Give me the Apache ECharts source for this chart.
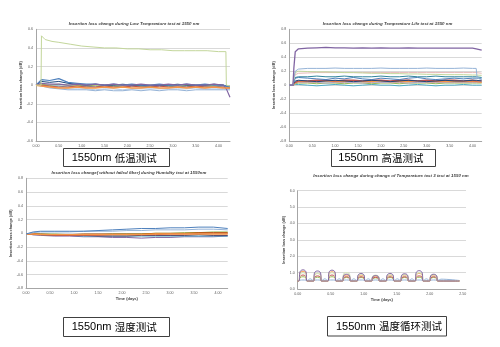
<!DOCTYPE html>
<html>
<head>
<meta charset="utf-8">
<script src="https://cdn.jsdelivr.net/npm/echarts@6/dist/echarts.min.js"></script>
<style>
  html, body { margin: 0; padding: 0; background: #ffffff; }
  #c { width: 500px; height: 347px; }
</style>
</head>
<body>
<div id="c"></div>
<script>
// ---------- Low temperature test at 1550 nm (insertion loss change, dB) ----------
const ltDays   = [0, 0.12, 0.3, 0.5, 0.7, 0.9, 1.1, 1.3, 1.5, 1.7, 1.9, 2.1, 2.3, 2.5, 2.7, 2.9, 3.1, 3.3, 3.5, 3.7, 3.9, 4.1, 4.17, 4.25];
const ltBlue   = [0.00, 0.06, 0.05, 0.07, 0.03, 0.02, 0.01, 0.01, 0.00, 0.01, 0.00, 0.01, 0.00, 0.00, 0.01, 0.00, 0.00, 0.01, 0.00, 0.01, 0.00, 0.00, -0.01, -0.02];
const ltNavy   = [0.00, 0.04, 0.03, 0.04, 0.02, 0.01, 0.00, 0.01, 0.00, 0.00, 0.01, 0.00, 0.00, -0.01, 0.00, 0.00, 0.01, 0.00, 0.00, 0.00, 0.01, 0.00, -0.01, -0.02];
const ltPurple = [0.00, 0.02, 0.01, 0.01, 0.00, 0.01, 0.00, 0.01, 0.00, 0.01, 0.00, 0.00, 0.01, 0.00, 0.00, 0.01, 0.00, 0.01, 0.00, 0.00, 0.01, 0.00, -0.04, -0.13];
const ltGreen  = [0.00, 0.01, 0.00, 0.01, 0.00, 0.00, -0.01, 0.00, 0.00, -0.01, 0.00, 0.00, -0.01, 0.00, 0.00, -0.01, 0.00, 0.00, 0.00, -0.01, 0.00, 0.00, -0.01, -0.01];
const ltTeal   = [0.00, 0.00, -0.01, -0.01, -0.02, -0.01, -0.01, -0.02, -0.01, -0.01, -0.02, -0.01, -0.01, -0.02, -0.01, -0.01, -0.02, -0.01, -0.02, -0.01, -0.01, -0.02, -0.02, -0.03];
const ltRed    = [0.00, 0.00, -0.01, -0.02, -0.02, -0.01, -0.02, -0.02, -0.01, -0.02, -0.02, -0.01, -0.02, -0.02, -0.01, -0.02, -0.02, -0.02, -0.01, -0.02, -0.02, -0.02, -0.03, -0.03];
const ltOrange = [0.00, -0.01, -0.02, -0.03, -0.03, -0.02, -0.03, -0.03, -0.02, -0.03, -0.02, -0.03, -0.03, -0.02, -0.03, -0.03, -0.02, -0.03, -0.02, -0.03, -0.02, -0.03, -0.03, -0.03];
const ltSky    = [0.00, -0.01, -0.03, -0.04, -0.05, -0.05, -0.05, -0.06, -0.05, -0.06, -0.06, -0.05, -0.06, -0.05, -0.06, -0.05, -0.05, -0.06, -0.05, -0.05, -0.05, -0.05, -0.05, -0.05];
const ltPale   = [0.00, 0.00, -0.02, -0.03, -0.04, -0.04, -0.04, -0.05, -0.04, -0.04, -0.05, -0.04, -0.04, -0.04, -0.04, -0.04, -0.04, -0.04, -0.03, -0.04, -0.04, -0.04, -0.04, -0.04];
// the one channel that jumps up when cooling starts
const ltLimeDays = [0, 0.11, 0.12, 0.2, 0.35, 0.5, 0.75, 1.0, 1.25, 1.5, 1.75, 2.0, 2.25, 2.5, 2.75, 3.0, 3.25, 3.5, 3.75, 4.0, 4.16, 4.17, 4.25];
const ltLime     = [0.00, 0.00, 0.53, 0.49, 0.47, 0.46, 0.44, 0.42, 0.41, 0.40, 0.40, 0.39, 0.39, 0.38, 0.38, 0.37, 0.37, 0.37, 0.37, 0.36, 0.36, 0.00, -0.01];

// ---------- High temperature life test at 1550 nm ----------
const htDays   = [0, 0.08, 0.1, 0.13, 0.2, 0.4, 0.6, 0.8, 1.0, 1.2, 1.4, 1.6, 1.8, 2.0, 2.2, 2.4, 2.6, 2.8, 3.0, 3.2, 3.4, 3.6, 3.8, 4.0, 4.08, 4.1, 4.2];
const htPurple = [0, 0.00, 0.25, 0.48, 0.52, 0.53, 0.535, 0.54, 0.535, 0.535, 0.53, 0.535, 0.53, 0.535, 0.53, 0.53, 0.535, 0.53, 0.53, 0.53, 0.53, 0.53, 0.53, 0.53, 0.52, 0.51, 0.50];
const htSky    = [0, 0.00, 0.10, 0.20, 0.23, 0.24, 0.24, 0.24, 0.245, 0.24, 0.24, 0.24, 0.24, 0.245, 0.24, 0.24, 0.24, 0.24, 0.245, 0.24, 0.24, 0.24, 0.245, 0.24, 0.24, 0.10, 0.08];
const htKhaki  = [0, 0.00, 0.10, 0.18, 0.20, 0.195, 0.19, 0.19, 0.185, 0.18, 0.18, 0.175, 0.17, 0.17, 0.165, 0.165, 0.16, 0.16, 0.155, 0.155, 0.15, 0.15, 0.15, 0.145, 0.145, 0.14, 0.14];
const htRose   = [0, 0.00, 0.08, 0.15, 0.17, 0.175, 0.18, 0.18, 0.18, 0.18, 0.18, 0.18, 0.18, 0.18, 0.18, 0.18, 0.18, 0.18, 0.18, 0.18, 0.18, 0.18, 0.18, 0.18, 0.18, 0.17, 0.17];
const htTeal   = [0, 0.00, 0.06, 0.11, 0.12, 0.12, 0.13, 0.12, 0.12, 0.13, 0.12, 0.12, 0.12, 0.13, 0.12, 0.12, 0.13, 0.12, 0.12, 0.13, 0.12, 0.12, 0.12, 0.12, 0.12, 0.11, 0.11];
const htBlue   = [0, 0.00, 0.05, 0.10, 0.11, 0.10, 0.09, 0.08, 0.10, 0.09, 0.11, 0.09, 0.08, 0.10, 0.09, 0.08, 0.10, 0.11, 0.09, 0.08, 0.09, 0.10, 0.09, 0.10, 0.10, 0.09, 0.09];
const htNavy   = [0, 0.00, 0.03, 0.06, 0.07, 0.06, 0.05, 0.06, 0.07, 0.06, 0.05, 0.06, 0.07, 0.06, 0.05, 0.06, 0.07, 0.06, 0.05, 0.06, 0.07, 0.06, 0.06, 0.07, 0.07, 0.06, 0.06];
const htRed    = [0, 0.00, 0.03, 0.05, 0.06, 0.06, 0.07, 0.07, 0.06, 0.07, 0.07, 0.06, 0.07, 0.07, 0.06, 0.07, 0.07, 0.06, 0.07, 0.06, 0.07, 0.07, 0.06, 0.07, 0.06, 0.06, 0.06];
const htOrange = [0, 0.00, 0.02, 0.04, 0.05, 0.05, 0.05, 0.06, 0.05, 0.05, 0.06, 0.05, 0.05, 0.06, 0.05, 0.05, 0.05, 0.06, 0.05, 0.05, 0.05, 0.05, 0.05, 0.05, 0.05, 0.05, 0.04];
const htLilac  = [0, 0.00, 0.01, 0.03, 0.04, 0.04, 0.04, 0.03, 0.04, 0.04, 0.04, 0.03, 0.04, 0.04, 0.04, 0.04, 0.03, 0.04, 0.04, 0.04, 0.04, 0.04, 0.04, 0.04, 0.04, 0.04, 0.04];
const htGreen  = [0, 0.00, 0.01, 0.02, 0.03, 0.03, 0.02, 0.03, 0.03, 0.02, 0.03, 0.03, 0.02, 0.03, 0.03, 0.02, 0.03, 0.03, 0.03, 0.02, 0.03, 0.03, 0.03, 0.03, 0.03, 0.03, 0.03];
const htCyan   = [0, 0.00, 0.00, 0.01, 0.01, 0.00, -0.01, 0.00, 0.01, 0.00, -0.01, 0.00, 0.01, 0.00, 0.00, -0.01, 0.00, 0.01, 0.00, -0.01, 0.00, 0.00, 0.01, 0.00, 0.00, 0.00, 0.00];

// ---------- Humidity test at 1550 nm (without failed fiber) ----------
const huDays   = [0, 0.15, 0.3, 0.6, 0.9, 1.2, 1.5, 1.8, 2.1, 2.4, 2.7, 3.0, 3.3, 3.6, 3.9, 4.2];
const huBlue   = [-0.01, 0.02, 0.03, 0.03, 0.03, 0.03, 0.04, 0.05, 0.06, 0.07, 0.07, 0.08, 0.08, 0.09, 0.09, 0.07];
const huSky    = [-0.01, 0.01, 0.02, 0.02, 0.02, 0.03, 0.03, 0.03, 0.04, 0.04, 0.05, 0.05, 0.05, 0.06, 0.06, 0.05];
const huGreen  = [-0.01, 0.00, -0.01, -0.01, -0.02, -0.02, -0.02, -0.01, -0.01, -0.01, 0.00, 0.00, 0.01, 0.01, 0.02, 0.02];
const huBrown  = [-0.01, -0.01, -0.01, -0.02, -0.02, -0.01, -0.01, -0.01, -0.01, -0.01, 0.00, 0.00, 0.00, 0.01, 0.01, 0.01];
const huRed    = [-0.01, -0.01, -0.02, -0.03, -0.03, -0.03, -0.03, -0.02, -0.02, -0.02, -0.02, -0.01, -0.01, 0.00, 0.00, 0.00];
const huOrange = [-0.01, -0.01, -0.02, -0.02, -0.02, -0.02, -0.02, -0.02, -0.02, -0.02, -0.01, -0.01, -0.01, -0.01, -0.01, -0.01];
const huPlum   = [-0.01, -0.02, -0.02, -0.03, -0.03, -0.03, -0.04, -0.04, -0.04, -0.03, -0.03, -0.03, -0.03, -0.02, -0.03, -0.03];
const huTeal   = [-0.01, -0.01, -0.02, -0.03, -0.03, -0.04, -0.04, -0.04, -0.04, -0.04, -0.04, -0.04, -0.04, -0.04, -0.04, -0.04];
const huPurple = [-0.01, -0.02, -0.03, -0.04, -0.04, -0.05, -0.05, -0.06, -0.06, -0.07, -0.06, -0.06, -0.05, -0.05, -0.05, -0.04];

// ---------- Temperature cycling test at 1550 nm ----------
// each row: cycle start, rising shoulder, peak, falling shoulder, back at base, mid-gap
const tcDays = [0,
  0.02, 0.035, 0.08, 0.125, 0.14, 0.19,
  0.24, 0.255, 0.30, 0.345, 0.36, 0.41,
  0.46, 0.475, 0.52, 0.565, 0.58, 0.63,
  0.68, 0.695, 0.74, 0.785, 0.80, 0.85,
  0.90, 0.915, 0.96, 1.005, 1.02, 1.07,
  1.12, 1.135, 1.18, 1.225, 1.24, 1.29,
  1.34, 1.355, 1.40, 1.445, 1.46, 1.51,
  1.56, 1.575, 1.62, 1.665, 1.68, 1.73,
  1.78, 1.795, 1.84, 1.885, 1.90, 1.95,
  2.00, 2.015, 2.06, 2.105, 2.12, 2.17,
  2.45];
const tcSky = [0.50,
  0.52, 0.54, 0.55, 0.54, 0.52, 0.62,
  0.52, 0.54, 0.55, 0.54, 0.52, 0.62,
  0.52, 0.54, 0.55, 0.54, 0.52, 0.62,
  0.52, 0.54, 0.55, 0.54, 0.52, 0.62,
  0.52, 0.54, 0.55, 0.54, 0.52, 0.62,
  0.52, 0.54, 0.55, 0.54, 0.52, 0.62,
  0.52, 0.54, 0.55, 0.54, 0.52, 0.62,
  0.52, 0.54, 0.55, 0.54, 0.52, 0.62,
  0.52, 0.54, 0.55, 0.54, 0.52, 0.62,
  0.52, 0.54, 0.55, 0.54, 0.52, 0.60,
  0.52];
const tcGreen = [0.49,
  0.49, 0.68, 0.75, 0.68, 0.49, 0.49,
  0.49, 0.65, 0.72, 0.65, 0.49, 0.49,
  0.49, 0.68, 0.75, 0.68, 0.49, 0.49,
  0.49, 0.64, 0.70, 0.64, 0.49, 0.49,
  0.49, 0.64, 0.70, 0.64, 0.49, 0.49,
  0.49, 0.62, 0.68, 0.62, 0.49, 0.49,
  0.49, 0.64, 0.70, 0.64, 0.49, 0.49,
  0.49, 0.64, 0.70, 0.64, 0.49, 0.49,
  0.49, 0.65, 0.72, 0.65, 0.49, 0.49,
  0.49, 0.64, 0.70, 0.64, 0.49, 0.49,
  0.49];
const tcRed = [0.49,
  0.49, 0.76, 0.85, 0.76, 0.49, 0.49,
  0.49, 0.72, 0.80, 0.72, 0.49, 0.49,
  0.49, 0.76, 0.85, 0.76, 0.49, 0.49,
  0.49, 0.68, 0.75, 0.68, 0.49, 0.49,
  0.49, 0.68, 0.75, 0.68, 0.49, 0.49,
  0.49, 0.65, 0.72, 0.65, 0.49, 0.49,
  0.49, 0.68, 0.75, 0.68, 0.49, 0.49,
  0.49, 0.68, 0.75, 0.68, 0.49, 0.49,
  0.49, 0.72, 0.80, 0.72, 0.49, 0.49,
  0.49, 0.68, 0.75, 0.68, 0.49, 0.49,
  0.49];
const tcOrange = [0.48,
  0.48, 0.97, 1.08, 0.97, 0.48, 0.48,
  0.48, 0.85, 0.95, 0.85, 0.48, 0.48,
  0.48, 0.94, 1.05, 0.94, 0.48, 0.48,
  0.48, 0.76, 0.85, 0.76, 0.48, 0.48,
  0.48, 0.76, 0.85, 0.76, 0.48, 0.48,
  0.48, 0.72, 0.80, 0.72, 0.48, 0.48,
  0.48, 0.76, 0.85, 0.76, 0.48, 0.48,
  0.48, 0.76, 0.85, 0.76, 0.48, 0.48,
  0.48, 0.85, 0.95, 0.85, 0.48, 0.48,
  0.48, 0.76, 0.85, 0.76, 0.48, 0.48,
  0.48];
const tcLime = [0.49,
  0.49, 0.90, 1.00, 0.90, 0.49, 0.49,
  0.49, 0.85, 0.95, 0.85, 0.49, 0.49,
  0.49, 0.90, 1.00, 0.90, 0.49, 0.49,
  0.49, 0.90, 1.00, 0.90, 0.49, 0.49,
  0.49, 0.81, 0.90, 0.81, 0.49, 0.49,
  0.49, 0.76, 0.85, 0.76, 0.49, 0.49,
  0.49, 0.79, 0.88, 0.79, 0.49, 0.49,
  0.49, 0.79, 0.88, 0.79, 0.49, 0.49,
  0.49, 0.90, 1.00, 0.90, 0.49, 0.49,
  0.49, 0.79, 0.88, 0.79, 0.49, 0.49,
  0.49];
const tcPurple = [0.49,
  0.49, 1.05, 1.17, 1.05, 0.49, 0.49,
  0.49, 0.99, 1.10, 0.99, 0.49, 0.49,
  0.49, 1.03, 1.15, 1.03, 0.49, 0.49,
  0.49, 0.81, 0.90, 0.81, 0.49, 0.49,
  0.49, 0.85, 0.95, 0.85, 0.49, 0.49,
  0.49, 0.74, 0.82, 0.74, 0.49, 0.49,
  0.49, 0.85, 0.95, 0.85, 0.49, 0.49,
  0.49, 0.84, 0.93, 0.84, 0.49, 0.49,
  0.49, 1.00, 1.12, 1.00, 0.49, 0.49,
  0.49, 0.81, 0.90, 0.81, 0.49, 0.49,
  0.49];

// axis ranges: min, max, step
const ltYTicks = [-0.6, 0.6, 0.2];
const wideYTicks = [-0.8, 0.8, 0.2];
const tcYTicks = [0, 6, 1];

// ---------- chart construction ----------
const LABEL_FONT = '"Liberation Sans", Arial, sans-serif';
const axisGray = '#A6A6A6';
const gridGray = '#D9D9D9';

function pairs(days, vals) {
  return days.map((d, i) => [d, vals[i]]);
}

function xAxisFor(gridIndex, max, nameGap) {
  return {
    type: 'value', gridIndex, min: 0, max, interval: 0.5,
    name: 'Time (days)',
    nameLocation: 'middle', nameGap,
    nameTextStyle: { fontSize: 4, fontWeight: 'bold', color: '#404040', fontFamily: LABEL_FONT },
    axisLine: { show: true, onZero: false, lineStyle: { color: axisGray, width: 1 } },
    axisTick: { show: false },
    splitLine: { show: false },
    axisLabel: {
      fontSize: 3.6, color: '#595959', margin: 3, fontFamily: LABEL_FONT,
      formatter: v => (Math.abs(v * 2 - Math.round(v * 2)) < 1e-6 ? v.toFixed(2) : '')
    }
  };
}

function yAxisFor(gridIndex, ticks, nameGap, fmt) {
  return {
    type: 'value', gridIndex, min: ticks[0], max: ticks[1], interval: ticks[2],
    name: 'Insertion loss change (dB)',
    nameLocation: 'middle', nameGap, nameRotate: 90,
    nameTextStyle: { fontSize: 3.8, fontWeight: 'bold', color: '#404040', fontFamily: LABEL_FONT },
    axisLine: { show: true, lineStyle: { color: axisGray, width: 1 } },
    axisTick: { show: false },
    splitLine: { show: true, lineStyle: { color: gridGray, width: 1 } },
    axisLabel: { fontSize: 3.6, color: '#595959', margin: 3, fontFamily: LABEL_FONT, formatter: fmt }
  };
}

const decimalFmt = v => (Math.abs(v) < 1e-9 ? '0' : v.toFixed(1));
const fixedFmt = v => v.toFixed(1);

function line(idx, days, vals, color, width, smooth) {
  const s = {
    type: 'line', xAxisIndex: idx, yAxisIndex: idx,
    data: pairs(days, vals), showSymbol: false, symbol: 'none',
    smooth: smooth || false,
    lineStyle: { color, width: width || 1 }, silent: true, animation: false
  };
  return s;
}

const series = [
  // low temperature
  line(0, ltDays, ltPale, '#B9CDE5'),
  line(0, ltDays, ltSky, '#95B3D7'),
  line(0, ltDays, ltTeal, '#4BACC6'),
  line(0, ltDays, ltGreen, '#9BBB59'),
  line(0, ltDays, ltRed, '#C0504D'),
  line(0, ltDays, ltNavy, '#1F497D'),
  line(0, ltDays, ltBlue, '#4F81BD', 1.2),
  line(0, ltDays, ltPurple, '#8064A2', 1.2),
  line(0, ltDays, ltOrange, '#F79646', 1.5),
  line(0, ltLimeDays, ltLime, '#C3D69B'),
  // high temperature
  line(1, htDays, htCyan, '#4BACC6'),
  line(1, htDays, htGreen, '#9BBB59'),
  line(1, htDays, htLilac, '#B3A2C7'),
  line(1, htDays, htOrange, '#F79646', 1.3),
  line(1, htDays, htRed, '#C0504D', 1.3),
  line(1, htDays, htNavy, '#1F497D'),
  line(1, htDays, htBlue, '#4F81BD'),
  line(1, htDays, htTeal, '#31859C'),
  line(1, htDays, htRose, '#E6B9B8'),
  line(1, htDays, htKhaki, '#C4D79B'),
  line(1, htDays, htSky, '#95B3D7'),
  line(1, htDays, htPurple, '#8064A2', 1.3),
  // humidity
  line(2, huDays, huPurple, '#8064A2'),
  line(2, huDays, huTeal, '#4BACC6'),
  line(2, huDays, huPlum, '#4D3B62'),
  line(2, huDays, huGreen, '#9BBB59'),
  line(2, huDays, huBrown, '#B65708'),
  line(2, huDays, huRed, '#C0504D'),
  line(2, huDays, huOrange, '#F79646', 1.3),
  line(2, huDays, huSky, '#95B3D7'),
  line(2, huDays, huBlue, '#4F81BD'),
  // temperature cycling
  line(3, tcDays, tcSky, '#95B3D7', 1, 0.4),
  line(3, tcDays, tcGreen, '#9BBB59', 1, 0.4),
  line(3, tcDays, tcRed, '#C0504D', 1, 0.4),
  line(3, tcDays, tcOrange, '#F79646', 1, 0.4),
  line(3, tcDays, tcLime, '#D7E4BD', 1.2, 0.4),
  line(3, tcDays, tcPurple, '#8064A2', 1, 0.4)
];

const titleStyle = { fontSize: 4.4, fontStyle: 'italic', fontWeight: 'bold', color: '#404040', fontFamily: LABEL_FONT };
function titleAt(text, cx, top) {
  return { text, left: cx, top, textAlign: 'center', padding: 0, itemGap: 0, textStyle: titleStyle };
}

function labelBox(x, y, w, h, tx, ty, cn) {
  return {
    type: 'group', z: 100,
    children: [
      { type: 'rect', z: 100, shape: { x, y, width: w, height: h },
        style: { fill: '#ffffff', stroke: '#404040', lineWidth: 1 } },
      { type: 'text', z: 101, x: tx, y: ty,
        style: {
          text: '{a|1550nm} {b|' + cn + '}',
          verticalAlign: 'middle',
          rich: {
            a: { fontSize: 11, fontFamily: LABEL_FONT, fill: '#000000' },
            b: { fontSize: 10.5, fontFamily: '"Noto Sans CJK SC", sans-serif', fill: '#000000' }
          }
        } }
    ]
  };
}

const chart = echarts.init(document.getElementById('c'), null, { renderer: 'canvas' });
chart.setOption({
  backgroundColor: '#ffffff',
  animation: false,
  title: [
    titleAt('Insertion loss change during Low Temperature test at 1550 nm', 134, 21.8),
    titleAt('Insertion loss change during Temperature Life test at 1550 nm', 387.5, 21.8),
    titleAt('Insertion loss change( without failed fiber) during Humidity test at 1550nm', 129, 170.5),
    titleAt('Insertion loss change during change of Temperature test 3 test at 1550 nm', 391, 174)
  ],
  grid: [
    { left: 36, top: 29.3, width: 194, height: 111.7 },
    { left: 289.3, top: 29.3, width: 192.4, height: 111.7 },
    { left: 26, top: 178.3, width: 201.7, height: 110 },
    { left: 297.7, top: 190.7, width: 168.3, height: 98.3 }
  ],
  xAxis: [
    xAxisFor(0, 4.25, 9),
    xAxisFor(1, 4.2, 9),
    xAxisFor(2, 4.2, 8.5),
    xAxisFor(3, 2.55, 8.5)
  ],
  yAxis: [
    yAxisFor(0, ltYTicks, 11, decimalFmt),
    yAxisFor(1, wideYTicks, 11, decimalFmt),
    yAxisFor(2, wideYTicks, 12.5, decimalFmt),
    yAxisFor(3, tcYTicks, 11, fixedFmt)
  ],
  series,
  graphic: [
    labelBox(63.5, 148.5, 106, 18, 71.7, 157.8, '低温测试'),
    labelBox(331.5, 149.5, 104, 17, 338.3, 158.3, '高温测试'),
    labelBox(63.5, 317.5, 106, 19, 71.7, 327.3, '湿度测试'),
    labelBox(327.5, 316.5, 119, 19.5, 336, 326.5, '温度循环测试')
  ]
});
</script>
</body>
</html>
